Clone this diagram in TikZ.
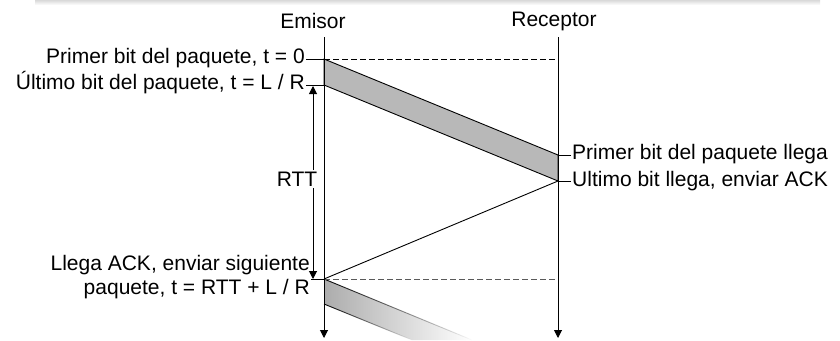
\documentclass[tikz,border=0pt]{standalone}
\usepackage{fontspec}
\setmainfont{Liberation Sans}
\usetikzlibrary{arrows.meta,fadings}
\definecolor{band}{RGB}{184,184,184}
\definecolor{dashgray}{RGB}{90,90,90}
\tikzset{
  axisline/.style={line width=1pt,-{Triangle[length=8pt,width=8pt]}},
  lbl/.style={inner sep=1pt,font=\fontsize{21}{22}\selectfont},
  tick/.style={line width=0.9pt},
}

\begin{document}
\begin{tikzpicture}[x=1pt,y=-1pt]
  \useasboundingbox (0,0) rectangle (840,340);
  \shade[top color=gray!30,bottom color=white] (35,0) rectangle (820,5);  % frame shadow

  \coordinate (etop) at (324,37);  \coordinate (ebot) at (324,338);
  \coordinate (rtop) at (558,37);  \coordinate (rbot) at (558,338);
  \coordinate (e0) at (324,59);    \coordinate (e1) at (324,85);
  \coordinate (r0) at (558,155);   \coordinate (r1) at (558,181);
  \coordinate (e2) at (324,279);   \coordinate (e3) at (324,304);
  \coordinate (d0) at (558,59);    \coordinate (d2) at (558,279);
  \coordinate (n0) at (472,340);   \coordinate (n1) at (412,340);

  \node[lbl] (emisor)   at (313,21) {Emisor};
  \node[lbl] (receptor) at (554,21) {Receptor};

  \fill[band,draw=black,line width=0.9pt] (e0) -- (r0) -- (r1) -- (e1) -- cycle;   % first packet
  \shade[left color=gray!65,right color=white] (e2) -- (n0) -- (n1) -- (e3) -- cycle; % next packet
  \draw[line width=0.9pt,path fading=east] (e2) -- (n0);
  \draw[line width=0.9pt,path fading=east] (e3) -- (n1);

  \draw[line width=0.9pt,dash pattern=on 6pt off 3pt] (e0) -- (d0);
  \draw[dashgray,line width=0.9pt,dash pattern=on 6pt off 3pt] (e2) -- (d2);
  \draw[line width=0.9pt] (r1) -- (e2);   % ACK

  \draw[axisline] (etop) -- (ebot);
  \draw[axisline] (rtop) -- (rbot);

  \node[lbl,anchor=east] (p0) at (306,58) {Primer bit del paquete, t = 0};
  \node[lbl,anchor=east] (p1) at (306,83) {Último bit del paquete, t = L / R};
  \node[lbl,anchor=east] (a0) at (311,265) {Llega ACK, enviar siguiente};
  \node[lbl,anchor=east] (a1) at (311,289) {paquete, t = RTT + L / R};
  \node[lbl,anchor=west] (q0) at (571,154) {Primer bit del paquete llega};
  \node[lbl,anchor=west] (q1) at (571,181) {Ultimo bit llega, enviar ACK};

  \draw[tick] (p0.east |- e0) -- (e0);
  \draw[tick] (p1.east |- e1) -- (e1);
  \draw[tick] (a0.east |- e2) -- (e2);
  \draw[tick] (q0.west |- r0) -- (r0);
  \draw[tick] (q1.west |- r1) -- (r1);

  \coordinate (rtt0) at (313,86);  \coordinate (rtt1) at (313,279);
  \draw[line width=1pt,{Triangle[length=8pt,width=8pt]}-{Triangle[length=8pt,width=8pt]}] (rtt0) -- (rtt1);
  \node[lbl,fill=white,inner sep=2pt] (rtt) at (297,179) {RTT};
\end{tikzpicture}
\end{document}
